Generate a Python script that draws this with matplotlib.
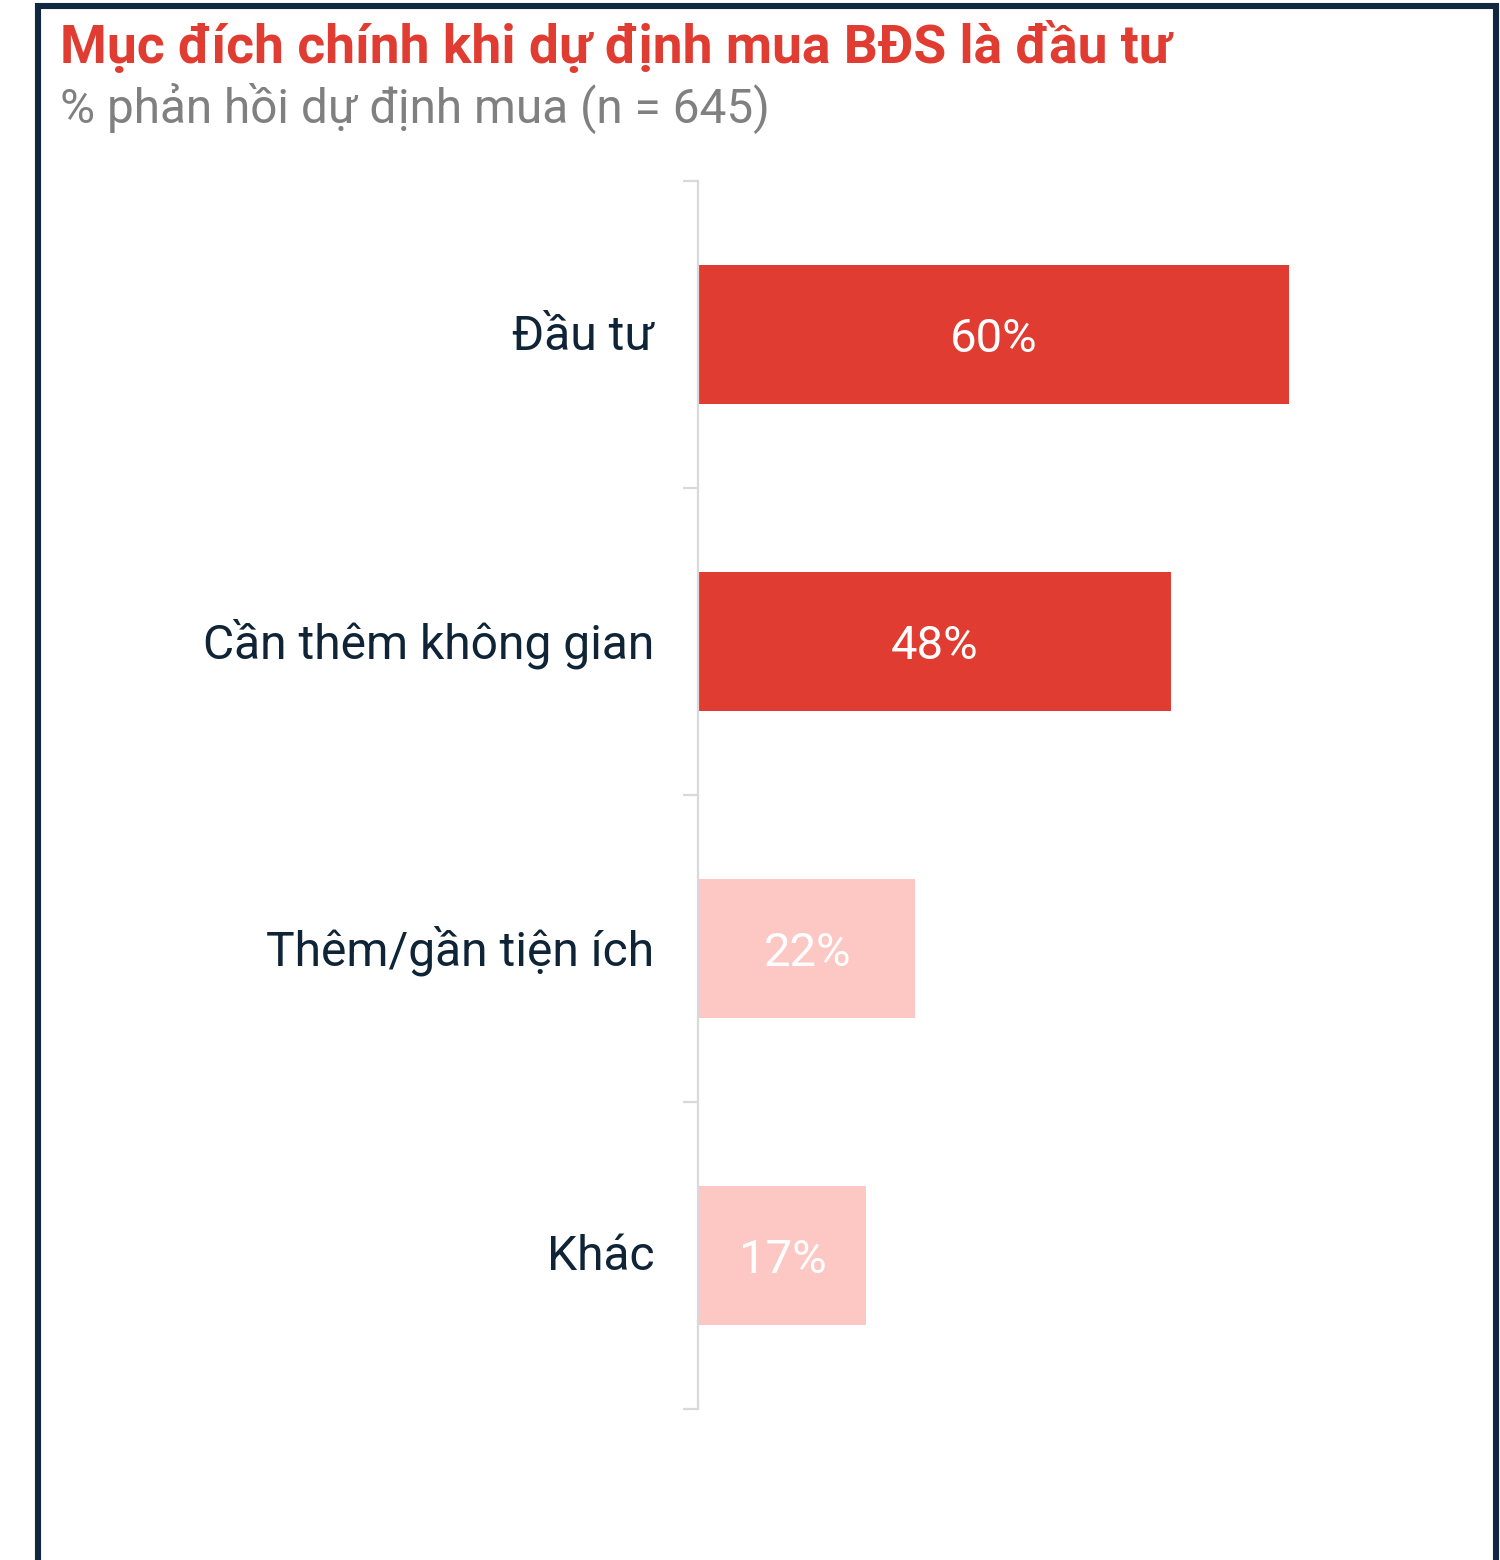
import matplotlib
matplotlib.use("Agg")
import matplotlib.pyplot as plt
import matplotlib.transforms as mtransforms
from matplotlib.lines import Line2D

plt.rcParams['font.family'] = ['Roboto', 'DejaVu Sans']

categories = ["Đầu tư", "Cần thêm không gian", "Thêm/gần tiện ích", "Khác"]
values = [60, 48, 22, 17]
value_labels = ["60%", "48%", "22%", "17%"]
bar_colors = ["#E03C31", "#E03C31", "#FDC7C4", "#FDC7C4"]

title = "Mục đích chính khi dự định mua BĐS là đầu tư"
subtitle = "% phản hồi dự định mua (n = 645)"

W, H = 1500, 1560
fig = plt.figure(figsize=(W / 100, H / 100), dpi=100)
fig.patch.set_facecolor("white")

xmax = 80
px_per_unit = 9.83
ax_left_px = 699
ax_top_px = 181
ax_bot_px = 1409
ax_w_px = xmax * px_per_unit
ax = fig.add_axes([ax_left_px / W, 1 - ax_bot_px / H, ax_w_px / W, (ax_bot_px - ax_top_px) / H])

y = list(range(len(categories)))
ax.barh(y, values, height=0.456, color=bar_colors, zorder=2)
ax.set_xlim(0, xmax)
ax.set_ylim(len(categories) - 0.5, -0.5)

for yi, v, lab in zip(y, values, value_labels):
    ax.annotate(lab, (v / 2, yi), xytext=(0, -12.5), textcoords="offset points",
                ha="center", va="baseline", color="white", fontsize=34, zorder=3)

for s in ["top", "right", "bottom"]:
    ax.spines[s].set_visible(False)
ax.spines["left"].set_color("#D9D9D9")
ax.spines["left"].set_linewidth(1.6)
ax.spines["left"].set_position(("outward", 1))

ax.set_xticks([])
ax.set_yticks([i - 0.5 for i in range(len(categories) + 1)])
ax.set_yticklabels([])
ax.tick_params(axis="y", which="major", length=11, width=1.6, color="#D9D9D9", direction="out")
ax.set_yticks(y, minor=True)
ax.set_yticklabels(categories, minor=True, va="center_baseline")
ax.tick_params(axis="y", which="minor", length=0, pad=31, labelsize=34.6, labelcolor="#0F2537")
shift = mtransforms.ScaledTranslation(0, 3 / 100, fig.dpi_scale_trans)
for lbl in ax.get_yticklabels(minor=True):
    lbl.set_transform(lbl.get_transform() + shift)

fig.text(60 / W, 1 - 63 / H, title, ha="left", va="baseline", fontsize=38.4,
         fontweight="bold", color="#E03C31")
fig.text(60 / W, 1 - 123 / H, subtitle, ha="left", va="baseline", fontsize=34.4,
         color="#808080")

bx0, bx1, by = 38 / W, 1496 / W, 1 - 5.5 / H
fig.add_artist(Line2D([bx0, bx0, bx1, bx1], [-0.01, by, by, -0.01],
                      transform=fig.transFigure, color="#0F2740", linewidth=4.4,
                      solid_joinstyle="miter"))

fig.savefig("out.png", dpi=100, facecolor="white")
